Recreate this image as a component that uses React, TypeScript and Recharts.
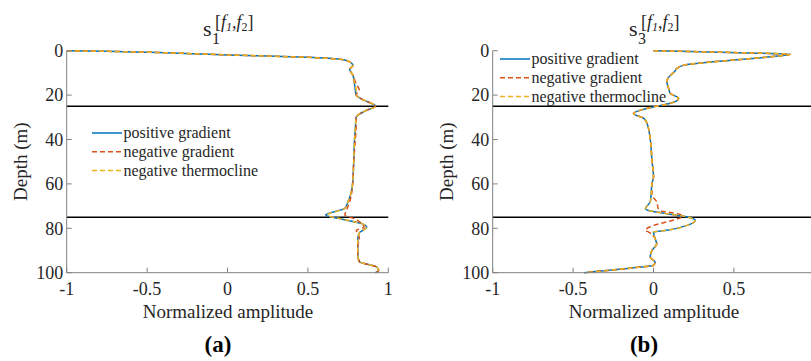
import React from "react";
import { LineChart, Line, XAxis, YAxis, ReferenceLine } from "recharts";

// Panel (a): s1
const depthA = [0, 0.3, 0.7, 1.9, 3, 3.9, 5, 6.5, 8.5, 11, 15, 17.7, 20, 22, 25, 27, 30, 35, 40, 50, 60, 65, 68, 71, 74, 76, 78, 79.5, 81, 82, 85, 88, 92, 95, 97.5, 99, 100];
const posA = [-1, -0.75, -0.5, 0, 0.5, 0.7, 0.76, 0.78, 0.76, 0.78, 0.79, 0.795, 0.8, 0.84, 0.92, 0.86, 0.8, 0.795, 0.79, 0.785, 0.778, 0.765, 0.75, 0.73, 0.61, 0.72, 0.84, 0.866, 0.84, 0.82, 0.81, 0.81, 0.81, 0.82, 0.93, 0.94, 0.92];
const negA = [-1, -0.75, -0.5, 0, 0.5, 0.7, 0.76, 0.78, 0.76, 0.78, 0.8, 0.82, 0.8, 0.84, 0.92, 0.86, 0.8, 0.8, 0.795, 0.785, 0.778, 0.77, 0.76, 0.745, 0.73, 0.8, 0.835, 0.85, 0.8, 0.81, 0.82, 0.81, 0.81, 0.82, 0.93, 0.94, 0.92];
const thermA = [-1, -0.75, -0.5, 0, 0.5, 0.7, 0.76, 0.78, 0.76, 0.78, 0.79, 0.8, 0.8, 0.84, 0.92, 0.86, 0.8, 0.795, 0.79, 0.785, 0.778, 0.765, 0.75, 0.73, 0.62, 0.72, 0.84, 0.866, 0.84, 0.82, 0.81, 0.81, 0.81, 0.82, 0.93, 0.94, 0.92];

// Panel (b): s3
const depthB = [0, 0.5, 1, 1.6, 2.5, 4.2, 5.5, 6.5, 8, 9.5, 12, 14, 17, 19.2, 21.5, 23.7, 25.3, 27, 28.3, 30.5, 32.8, 40, 49, 57, 60, 65, 68, 71.2, 72, 73.4, 74.6, 76.4, 78.7, 80.9, 81.7, 84.7, 87, 90, 93, 95.3, 96.7, 97.8, 100];
const posB = [0, 0.3, 0.6, 0.85, 0.76, 0.5, 0.3, 0.19, 0.146, 0.13, 0.094, 0.083, 0.094, 0.104, 0.156, 0.104, 0, -0.09, -0.125, -0.06, -0.04, -0.02, -0.01, 0, -0.01, -0.015, -0.02, -0.05, -0.03, 0.083, 0.19, 0.26, 0.21, 0.083, 0, 0.01, 0.02, -0.01, -0.02, 0.01, 0, -0.125, -0.43];
const negB = [0, 0.3, 0.6, 0.85, 0.76, 0.5, 0.3, 0.19, 0.146, 0.13, 0.094, 0.083, 0.094, 0.104, 0.156, 0.104, 0, -0.09, -0.125, -0.06, -0.04, -0.02, -0.01, 0, -0.01, -0.01, 0.02, 0.03, 0.04, 0.15, 0.18, 0.12, 0, -0.05, -0.03, 0.01, 0.02, -0.01, -0.02, 0.01, 0, -0.125, -0.43];
const thermB = [0, 0.3, 0.6, 0.85, 0.76, 0.5, 0.3, 0.19, 0.146, 0.13, 0.094, 0.083, 0.094, 0.104, 0.156, 0.104, 0, -0.09, -0.125, -0.06, -0.04, -0.02, -0.01, 0, -0.01, -0.015, -0.02, -0.05, -0.03, 0.083, 0.19, 0.26, 0.21, 0.083, 0, 0.01, 0.02, -0.01, -0.02, 0.01, 0, -0.125, -0.43];

const xTicksA = [-1, -0.5, 0, 0.5, 1];
const xTicksB = [-1, -0.5, 0, 0.5]; // x = 1 falls just past the picture's right edge
const yTicks = [0, 20, 40, 60, 80, 100];
const layerDepths = [25, 75];
const seriesNames = ["positive gradient", "negative gradient", "negative thermocline"];

const font = "Liberation Serif, serif";
const axisColor = "#808080";
const textColor = "#262626";
const colors = ["#0072BD", "#D95319", "#EDB120"];

const buildRows = (depth: number[], pos: number[], neg: number[], therm: number[]) =>
    depth.map((d, i) => ({ depth: d, pos: pos[i], neg: neg[i], therm: therm[i] }));

const TOP = 50.7;
const BOTTOM = 272.7;
const H = 361;

function LegendBox({ left, top }: { left: number; top: number }) {
    return (
        <svg width={240} height={60} style={{ position: "absolute", left, top, overflow: "visible" }}>
            {seriesNames.map((name, i) => (
                <g key={name} transform={`translate(0, ${8 + i * 18.7})`}>
                    <line x1={0} x2={30} y1={0} y2={0} stroke={colors[i]} strokeWidth={1.5}
                        strokeDasharray={i === 0 ? undefined : "5 3"} />
                    <text x={31.5} y={0} dy="0.32em" fontFamily={font} fontSize={16} fill={textColor}>{name}</text>
                </g>
            ))}
        </svg>
    );
}

// s_n^{[f_1,f_2]}
function Title({ cx, sub }: { cx: number; sub: string }) {
    return (
        <svg width={120} height={50} style={{ position: "absolute", left: cx - 60, top: 0 }}>
            <text x={35} y={36} fontFamily={font} fontSize={22} fill={textColor}>s</text>
            <text x={44} y={44} fontFamily={font} fontSize={16} fill={textColor}>{sub}</text>
            <text x={47} y={28} fontFamily={font} fontSize={18} fill={textColor}>
                [<tspan fontStyle="italic">f</tspan>
                <tspan fontSize={12} dy={3} fontStyle="italic">1</tspan>
                <tspan dy={-3}>,</tspan>
                <tspan fontStyle="italic">f</tspan>
                <tspan fontSize={12} dy={3}>2</tspan>
                <tspan dy={-3}>]</tspan>
            </text>
        </svg>
    );
}

interface PanelProps {
    left: number;
    width: number;
    plotLeft: number;
    plotRight: number;
    xTicks: number[];
    rows: { depth: number; pos: number; neg: number; therm: number }[];
    sub: string;
    caption: string;
    legendLeft: number;
    legendTop: number;
}

function Panel({ left, width, plotLeft, plotRight, xTicks, rows, sub, caption, legendLeft, legendTop }: PanelProps) {
    const yw = 50;
    const xh = 30;
    const cx = (plotLeft + plotRight) / 2;
    const tickStyle = { fontFamily: font, fontSize: 18, fill: textColor };
    const midY = (TOP + BOTTOM) / 2;
    return (
        <div style={{ position: "absolute", left, top: 0, width, height: H }}>
            <LineChart
                width={width}
                height={H}
                layout="vertical"
                data={rows}
                margin={{ top: TOP, bottom: H - BOTTOM - xh, left: plotLeft - yw, right: width - plotRight }}
            >
                <XAxis xAxisId="b" type="number" domain={[-1, 1]} ticks={xTicks} orientation="bottom" height={xh}
                    tickSize={-5} tickMargin={14.5} stroke={axisColor} tick={tickStyle} allowDataOverflow />
                <XAxis xAxisId="t" type="number" domain={[-1, 1]} ticks={xTicks} orientation="top" height={0}
                    tickSize={-5} tick={false} stroke={axisColor} allowDataOverflow />
                <YAxis yAxisId="l" type="number" dataKey="depth" domain={[0, 100]} ticks={yTicks} width={yw}
                    tickSize={-5} tickMargin={8.4} stroke={axisColor} tick={tickStyle} />
                <YAxis yAxisId="r" type="number" dataKey="depth" domain={[0, 100]} ticks={yTicks} width={0}
                    orientation="right" tickSize={-5} tick={false} stroke={axisColor} />
                {layerDepths.map((d) => (
                    <ReferenceLine key={d} xAxisId="b" yAxisId="l" y={d} stroke="#000" strokeWidth={1.5} />
                ))}
                <Line xAxisId="b" yAxisId="l" dataKey="pos" name={seriesNames[0]} type="monotone" stroke={colors[0]}
                    strokeWidth={1.5} dot={false} isAnimationActive={false} />
                <Line xAxisId="b" yAxisId="l" dataKey="neg" name={seriesNames[1]} type="monotone" stroke={colors[1]}
                    strokeWidth={1.5} strokeDasharray="5 3" dot={false} isAnimationActive={false} />
                <Line xAxisId="b" yAxisId="l" dataKey="therm" name={seriesNames[2]} type="monotone" stroke={colors[2]}
                    strokeWidth={1.5} strokeDasharray="5 3" dot={false} isAnimationActive={false} />
            </LineChart>
            <LegendBox left={legendLeft} top={legendTop} />
            <Title cx={cx} sub={sub} />
            <svg width={40} height={H} style={{ position: "absolute", left: plotLeft - 66.7, top: 0 }}>
                <text x={20} y={midY} transform={`rotate(-90 20 ${midY})`} textAnchor="middle" dy="0.35em"
                    fontFamily={font} fontSize={19} fill={textColor}>Depth (m)</text>
            </svg>
            <svg width={260} height={30} style={{ position: "absolute", left: cx - 130, top: 298 }}>
                <text x={130} y={20} textAnchor="middle" fontFamily={font} fontSize={19} fill={textColor}>Normalized amplitude</text>
            </svg>
            <svg width={120} height={36} style={{ position: "absolute", left: cx - 70, top: 326 }}>
                <text x={60} y={26} textAnchor="middle" fontFamily={font} fontSize={23} fontWeight="bold" fill="#000">{caption}</text>
            </svg>
        </div>
    );
}

export default function App() {
    return (
        <div style={{ position: "fixed", left: 0, top: 0, width: 811, height: 361, overflow: "hidden", background: "#fff" }}>
            <Panel left={0} width={400} plotLeft={66.7} plotRight={388.3} xTicks={xTicksA}
                rows={buildRows(depthA, posA, negA, thermA)} sub="1" caption="(a)" legendLeft={92} legendTop={125} />
            <Panel left={400} width={430} plotLeft={92.7} plotRight={414.3} xTicks={xTicksB}
                rows={buildRows(depthB, posB, negB, thermB)} sub="3" caption="(b)" legendLeft={100} legendTop={51} />
        </div>
    );
}
